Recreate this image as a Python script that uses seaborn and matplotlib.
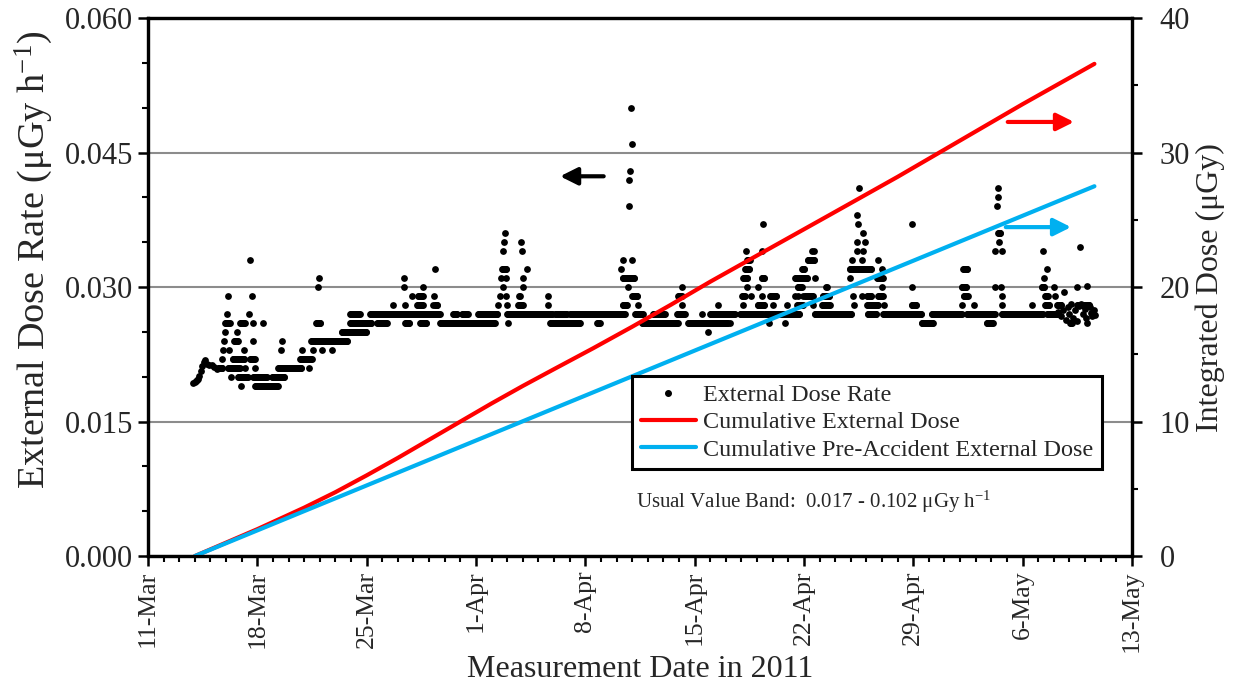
import numpy as np
import pandas as pd
import matplotlib
matplotlib.use("Agg")
import matplotlib.pyplot as plt
import matplotlib.dates as mdates
from matplotlib.lines import Line2D
from matplotlib.ticker import MultipleLocator, FormatStrFormatter, FuncFormatter
import seaborn as sns

# days are counted from 11-Mar-2011 00:00, rates in uGy/h, doses in uGy
START = pd.Timestamp("2011-03-11")

# first hours of the record (rate still creeping up)
start_days = [2.90, 2.98, 3.06, 3.14, 3.22, 3.30, 3.39, 3.48, 3.56, 3.65, 3.76, 3.90, 4.08, 4.24, 4.40, 4.61]
start_rates = [0.0193, 0.0194, 0.0195, 0.0196, 0.0197, 0.0201, 0.0206, 0.0212, 0.0216, 0.0219,
               0.0214, 0.0213, 0.0213, 0.0211, 0.0209, 0.0210]

# stretches of hourly readings that sit on one value: (first day, last day, rate)
runs = [
    (4.48, 4.80, 0.021), (4.93, 5.25, 0.026), (5.12, 5.89, 0.021), (5.42, 6.17, 0.022),
    (5.51, 5.76, 0.024), (5.76, 6.40, 0.020), (5.89, 6.21, 0.026), (6.53, 6.85, 0.022),
    (6.72, 7.62, 0.020), (6.85, 8.32, 0.019), (7.94, 8.77, 0.020), (8.32, 9.86, 0.021),
    (9.73, 10.50, 0.022), (10.43, 12.80, 0.024), (10.75, 11.07, 0.026), (12.40, 14.02, 0.025),
    (12.93, 14.34, 0.026), (12.93, 13.57, 0.027), (14.21, 18.69, 0.027), (14.66, 15.30, 0.026),
    (16.45, 16.77, 0.026), (17.41, 17.86, 0.026), (17.22, 17.61, 0.028), (17.29, 17.61, 0.029),
    (18.37, 18.57, 0.028), (18.69, 22.22, 0.026), (19.53, 19.78, 0.027), (20.10, 20.49, 0.027),
    (21.13, 22.41, 0.027), (22.66, 22.98, 0.032), (22.98, 25.93, 0.027), (23.69, 24.01, 0.028),
    (25.74, 27.66, 0.026), (26.06, 26.82, 0.027), (27.02, 30.55, 0.027), (28.75, 28.94, 0.026),
    (30.39, 30.71, 0.028), (30.39, 31.18, 0.031), (31.01, 31.35, 0.029), (31.18, 31.69, 0.027),
    (31.63, 33.93, 0.026), (32.33, 33.10, 0.027), (33.87, 34.38, 0.027), (33.93, 34.19, 0.029),
    (34.57, 37.13, 0.026), (35.98, 37.58, 0.027), (37.90, 39.37, 0.027), (38.03, 38.22, 0.029),
    (38.09, 38.41, 0.031), (38.22, 38.54, 0.032), (38.35, 38.54, 0.033), (39.05, 39.50, 0.028),
    (39.30, 39.50, 0.031), (39.50, 41.74, 0.027), (39.82, 40.27, 0.029), (41.42, 42.25, 0.031),
    (41.55, 41.93, 0.028), (41.61, 41.87, 0.030), (41.87, 42.06, 0.032), (42.06, 42.57, 0.029),
    (42.25, 42.70, 0.033), (42.70, 45.07, 0.027), (43.15, 43.66, 0.028), (43.21, 43.66, 0.029),
    (44.94, 46.35, 0.032), (46.03, 46.74, 0.028), (46.03, 46.35, 0.029), (46.09, 46.67, 0.027),
    (46.67, 47.06, 0.031), (46.74, 47.06, 0.029), (47.06, 49.55, 0.027), (48.91, 49.23, 0.028),
    (49.55, 50.26, 0.026), (50.19, 52.11, 0.027), (52.11, 52.43, 0.030), (52.18, 52.50, 0.032),
    (52.24, 52.50, 0.029), (52.43, 54.23, 0.027), (53.71, 54.10, 0.026), (54.42, 54.61, 0.036),
    (54.67, 57.30, 0.027), (57.23, 57.43, 0.030), (57.43, 57.75, 0.028), (57.43, 57.62, 0.029),
    (57.56, 58.30, 0.027), (58.20, 58.52, 0.028), (59.03, 59.16, 0.026), (59.48, 60.31, 0.028),
]

# isolated readings: (day, rate)
spots = [
    (4.72, 0.022), (4.83, 0.023), (4.87, 0.024), (4.93, 0.025), (5.08, 0.027), (5.10, 0.029),
    (5.21, 0.023), (5.31, 0.020), (5.68, 0.025), (5.95, 0.019), (6.15, 0.023), (6.21, 0.021),
    (6.49, 0.027), (6.55, 0.033), (6.64, 0.029), (6.70, 0.026), (6.74, 0.024), (6.85, 0.021),
    (7.38, 0.026), (8.52, 0.023), (8.56, 0.024), (9.86, 0.023), (10.31, 0.021), (10.56, 0.023),
    (10.90, 0.030), (10.95, 0.031), (11.14, 0.023), (11.76, 0.023),
    (15.69, 0.028), (16.39, 0.030), (16.39, 0.031), (16.45, 0.028), (16.90, 0.029), (17.61, 0.030),
    (18.25, 0.028), (18.31, 0.029), (18.37, 0.032), (22.41, 0.028), (22.54, 0.029), (22.60, 0.031),
    (22.73, 0.030), (22.73, 0.034), (22.79, 0.035), (22.86, 0.036), (22.90, 0.029), (22.90, 0.031),
    (22.98, 0.028), (23.05, 0.026), (23.75, 0.029), (23.82, 0.029), (23.88, 0.035), (23.94, 0.034),
    (24.01, 0.031), (24.01, 0.030), (24.26, 0.032), (25.61, 0.028), (25.61, 0.029),
    (30.28, 0.032), (30.39, 0.033), (31.01, 0.033), (30.71, 0.030), (30.79, 0.039), (30.81, 0.042),
    (30.86, 0.043), (30.90, 0.050), (30.97, 0.046), (31.35, 0.028), (34.19, 0.028), (34.19, 0.030),
    (35.47, 0.027), (35.85, 0.025), (36.47, 0.028),
    (37.26, 0.026), (38.09, 0.028), (38.28, 0.034), (38.35, 0.030), (38.60, 0.029), (39.05, 0.030),
    (39.30, 0.029), (39.30, 0.034), (39.37, 0.037), (39.76, 0.026), (40.01, 0.028), (40.78, 0.026),
    (40.91, 0.028), (41.42, 0.029), (41.61, 0.029), (41.93, 0.029), (42.51, 0.034), (42.64, 0.034),
    (42.70, 0.031), (42.57, 0.028), (43.41, 0.030), (43.47, 0.030), (44.94, 0.031), (45.07, 0.033),
    (45.13, 0.029), (45.20, 0.028), (45.39, 0.034), (45.39, 0.035), (45.39, 0.038), (45.45, 0.037),
    (45.52, 0.041), (45.71, 0.029), (45.71, 0.033), (45.77, 0.034), (45.77, 0.036), (45.90, 0.035),
    (46.74, 0.033), (46.99, 0.030), (46.99, 0.032), (47.12, 0.028), (48.91, 0.030), (48.91, 0.037),
    (52.11, 0.028), (52.88, 0.028), (54.23, 0.030), (54.23, 0.034), (54.35, 0.039), (54.42, 0.040),
    (54.42, 0.041), (54.48, 0.035), (54.61, 0.030), (54.67, 0.028), (54.67, 0.029), (54.67, 0.034),
    (56.59, 0.028), (57.30, 0.034), (57.36, 0.031), (57.56, 0.032), (58.00, 0.030), (58.07, 0.029),
    (58.64, 0.0294), (59.48, 0.030), (59.67, 0.0345), (60.12, 0.0301), (60.12, 0.026),
    (58.30, 0.0272), (58.45, 0.0268), (58.60, 0.0275), (58.75, 0.0263), (58.90, 0.0278),
    (59.00, 0.0270), (59.10, 0.0281), (59.25, 0.0266), (59.35, 0.0274), (59.50, 0.0262),
    (59.60, 0.0279), (59.75, 0.0281), (59.85, 0.0270), (60.00, 0.0276), (60.05, 0.0265),
    (60.20, 0.0280), (60.30, 0.0278), (60.35, 0.0271), (60.45, 0.0268), (60.55, 0.0274),
    (60.62, 0.0269),
]

# integrated doses
cum_days = [3.0, 5.0, 7.0, 10.0, 12.0, 14.0, 16.0, 18.0, 20.0, 22.0, 24.0, 26.0, 28.5, 31.0,
            33.5, 36.0, 40.0, 43.7, 48.0, 52.0, 56.0, 60.6]
cum_dose = [0.0, 1.0, 2.0, 3.6, 4.75, 6.0, 7.3, 8.65, 10.0, 11.35, 12.65, 13.9, 15.45, 17.05,
            18.7, 20.4, 23.0, 25.4, 28.2, 30.9, 33.6, 36.6]
pre_days = [3.0, 15.0, 30.0, 45.0, 60.6]
pre_dose = [0.0, 5.73, 12.89, 20.05, 27.5]

# --- assemble hourly dose rate table ---
t = list(start_days)
v = list(start_rates)
for a, b, r in runs:
    hrs = np.arange(a, b + 1e-6, 1 / 24)
    t += list(hrs)
    v += [r] * len(hrs)
for d, r in spots:
    t.append(d)
    v.append(r)
rate_df = pd.DataFrame({"date": START + pd.to_timedelta(t, unit="D"), "rate": v})
cum_df = pd.DataFrame({"date": START + pd.to_timedelta(cum_days, unit="D"), "dose": cum_dose})
pre_df = pd.DataFrame({"date": START + pd.to_timedelta(pre_days, unit="D"), "dose": pre_dose})

sns.set_style("ticks")
plt.rcParams["font.family"] = ["Liberation Serif", "DejaVu Serif"]
plt.rcParams["mathtext.default"] = "regular"

RED = "#ff0000"
BLUE = "#00b0f0"

fig = plt.figure(figsize=(12.33, 6.84), dpi=100)
ax = fig.add_axes([0.12, 0.187, 0.798, 0.7865])

sns.scatterplot(data=rate_df, x="date", y="rate", ax=ax, color="black", s=24,
                linewidth=0, legend=False, zorder=3)

ax2 = ax.twinx()
sns.lineplot(data=cum_df, x="date", y="dose", ax=ax2, color=RED, lw=3)
sns.lineplot(data=pre_df, x="date", y="dose", ax=ax2, color=BLUE, lw=3)

# left axis
ax.set_ylim(0, 0.060)
ax.yaxis.set_major_locator(MultipleLocator(0.015))
ax.yaxis.set_minor_locator(MultipleLocator(0.005))
ax.yaxis.set_major_formatter(FormatStrFormatter("%.3f"))
ax.yaxis.grid(True, which="major", color="#8c8c8c", lw=1.5)
ax.set_axisbelow(True)
ax.set_ylabel("External Dose Rate (μGy h$^{-1}$)", fontsize=27.5, labelpad=7)
ax.yaxis.label.set_y(0.55)

# right axis
ax2.set_ylim(0, 40)
ax2.yaxis.set_major_locator(MultipleLocator(10))
ax2.yaxis.set_minor_locator(MultipleLocator(5))
ax2.set_ylabel("Integrated Dose (μGy)", fontsize=23, labelpad=4)

# date axis
ax.set_xlim(pd.Timestamp("2011-03-11"), pd.Timestamp("2011-05-13"))
ax.set_xticks(pd.date_range("2011-03-11", "2011-05-13", freq="7D"))
ax.xaxis.set_minor_locator(mdates.DayLocator())
ax.xaxis.set_major_formatter(FuncFormatter(
    lambda x, pos: f"{mdates.num2date(x).day}-{mdates.num2date(x).strftime('%b')}"))
ax.set_xlabel("Measurement Date in 2011", fontsize=23, labelpad=2)

for a in (ax, ax2):
    a.tick_params(which="major", direction="out", length=7, width=1.8, color="black")
    a.tick_params(which="minor", direction="out", length=4, width=1.5, color="black")
    for s in a.spines.values():
        s.set_visible(True)
        s.set_linewidth(2.3)
        s.set_color("black")
ax.tick_params(axis="y", labelsize=22)
ax2.tick_params(axis="y", labelsize=22, pad=13)
ax.tick_params(axis="x", labelsize=18.5, labelrotation=90)
ax2.set_xlabel("")

# direction arrows
arrow_kw = dict(xycoords="axes fraction", textcoords="axes fraction")
ax2.annotate("", xy=(0.416, 0.706), xytext=(0.466, 0.706), **arrow_kw,
             arrowprops=dict(arrowstyle="-|>", color="black", lw=3, mutation_scale=26))
ax2.annotate("", xy=(0.944, 0.807), xytext=(0.871, 0.807), **arrow_kw,
             arrowprops=dict(arrowstyle="-|>", color=RED, lw=3, mutation_scale=26))
ax2.annotate("", xy=(0.941, 0.6115), xytext=(0.869, 0.6115), **arrow_kw,
             arrowprops=dict(arrowstyle="-|>", color=BLUE, lw=3, mutation_scale=26))

handles = [
    Line2D([], [], ls="", marker="o", ms=4, color="black"),
    Line2D([], [], color=RED, lw=3),
    Line2D([], [], color=BLUE, lw=3),
]
labels = ["External Dose Rate", "Cumulative External Dose", "Cumulative Pre-Accident External Dose"]
leg = ax2.legend(handles, labels, loc="upper left", bbox_to_anchor=(0.492, 0.335),
                 frameon=True, fancybox=False, edgecolor="black", fontsize=17.4,
                 borderpad=0.35, labelspacing=0.22, handlelength=2.3, handletextpad=0.3,
                 borderaxespad=0)
leg.get_frame().set_linewidth(2.2)
leg.get_frame().set_alpha(1)

ax2.text(0.496, 0.100, "Usual Value Band:  0.017 - 0.102 μGy h$^{-1}$",
         transform=ax2.transAxes, fontsize=15, va="center", ha="left")

fig.savefig("out.png", dpi=100)
